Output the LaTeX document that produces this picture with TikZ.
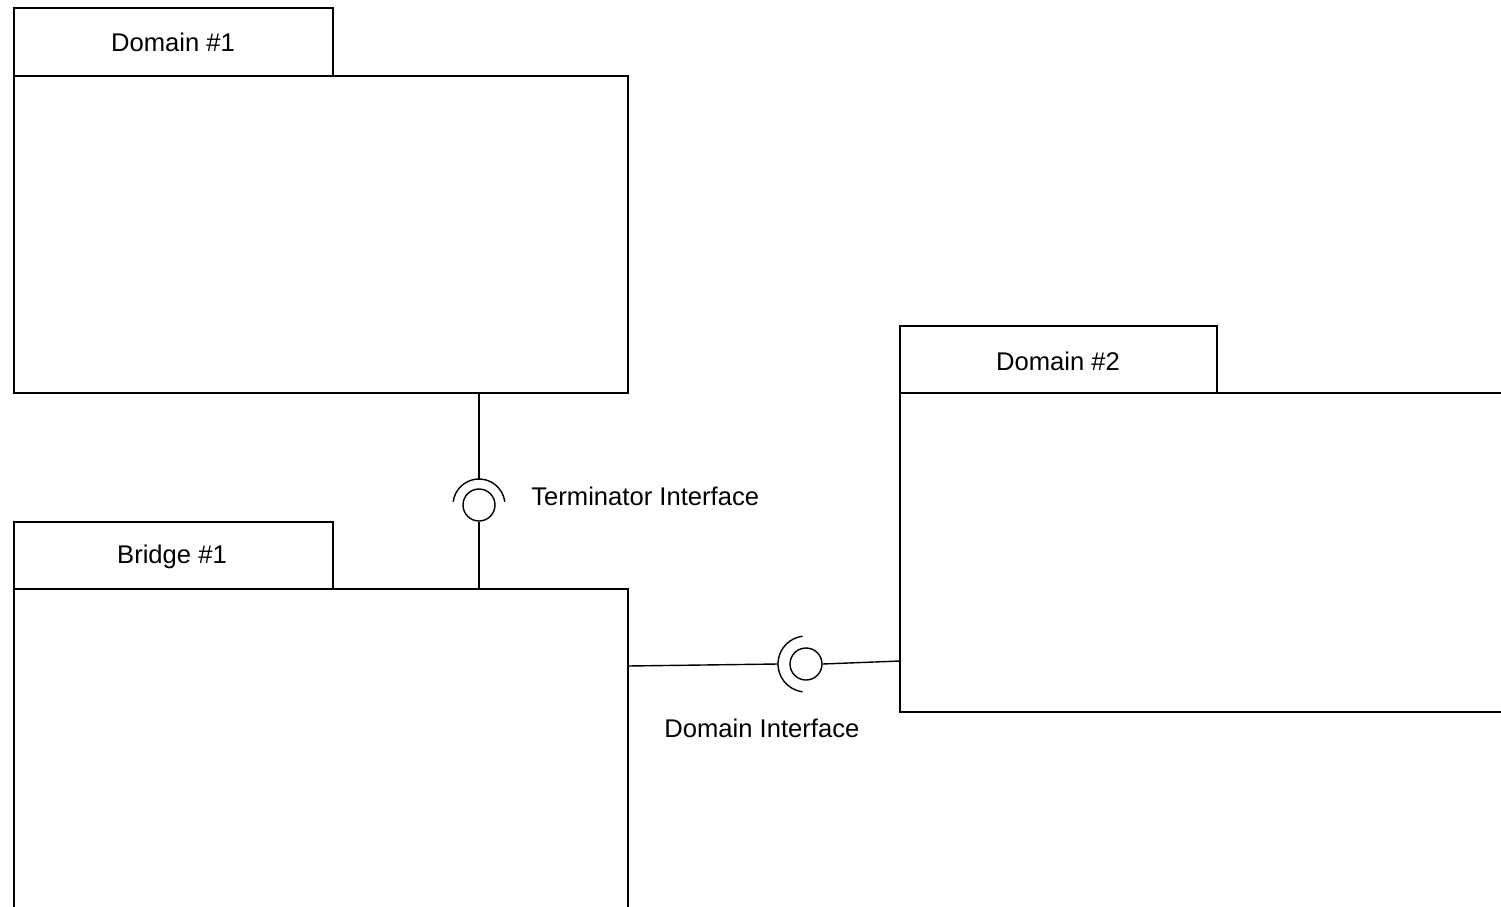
\documentclass[tikz,border=0pt]{standalone}
\usepackage{fontspec}
\setmainfont{Liberation Sans}
\begin{document}
\begin{tikzpicture}[x=0.5pt,y=-0.5pt,
  every node/.style={font=\fontsize{12.8}{15}\selectfont},
  box/.style={draw, line width=0.7pt, rectangle, inner sep=0pt, fill=white},
  ball/.style={draw, line width=0.7pt, circle, inner sep=0pt, minimum size=16pt},
  wire/.style={line width=0.7pt},
  title/.style={inner sep=0pt, anchor=center},
  lbl/.style={anchor=west, inner sep=0pt}]
\useasboundingbox (0,0) rectangle (1501,906);
\clip (0,0) rectangle (1501,906);

% Domain #1 package
\node[box, minimum width=159.5pt, minimum height=34pt] (d1tab) at (173.5,42) {};
\node[title] (d1name) at (173,42) {Domain \#1};
\node[box, minimum width=307pt, minimum height=158.5pt] (d1) at (321,234.5) {};

% Bridge #1 package (body runs past the lower edge)
\node[box, minimum width=159.5pt, minimum height=33.5pt] (b1tab) at (173.5,555.5) {};
\node[title] (b1name) at (172,557) {Bridge \#1};
\node[box, minimum width=307pt, minimum height=200pt] (b1) at (321,789) {};

% Domain #2 package (body runs past the right edge)
\node[box, minimum width=158.5pt, minimum height=33.5pt] (d2tab) at (1058.5,359.5) {};
\node[title] (d2name) at (1058,361) {Domain \#2};
\node[box, minimum width=340pt, minimum height=159.5pt] (d2) at (1240,552.5) {};

% Terminator interface: ball from the bridge, socket from Domain #1
\node[ball] (tball) at (479,505) {};
\draw[wire] (tball.center) ++(-7:26) arc[start angle=-7, end angle=-173, radius=26];
\coordinate (tsock) at (479,479);
\draw[wire] (d1.south -| tsock) -- (tsock);
\draw[wire] (tball.south) -- (tball.south |- b1.north);
\node[lbl] (tlbl) at (531,496) {Terminator Interface};

% Domain interface: ball from Domain #2, socket from the bridge
\node[ball] (dball) at (806,664) {};
\draw[wire] (dball.center) ++(97:28) arc[start angle=97, end angle=263, radius=28];
\coordinate (dsock) at (778,664);
\coordinate (bout) at (628,666);
\coordinate (din) at (900,661);
\draw[wire] (bout) -- (dsock);
\draw[wire] (dball.east) -- (din);
\node[lbl] (dlbl) at (664,728) {Domain Interface};
\end{tikzpicture}
\end{document}
